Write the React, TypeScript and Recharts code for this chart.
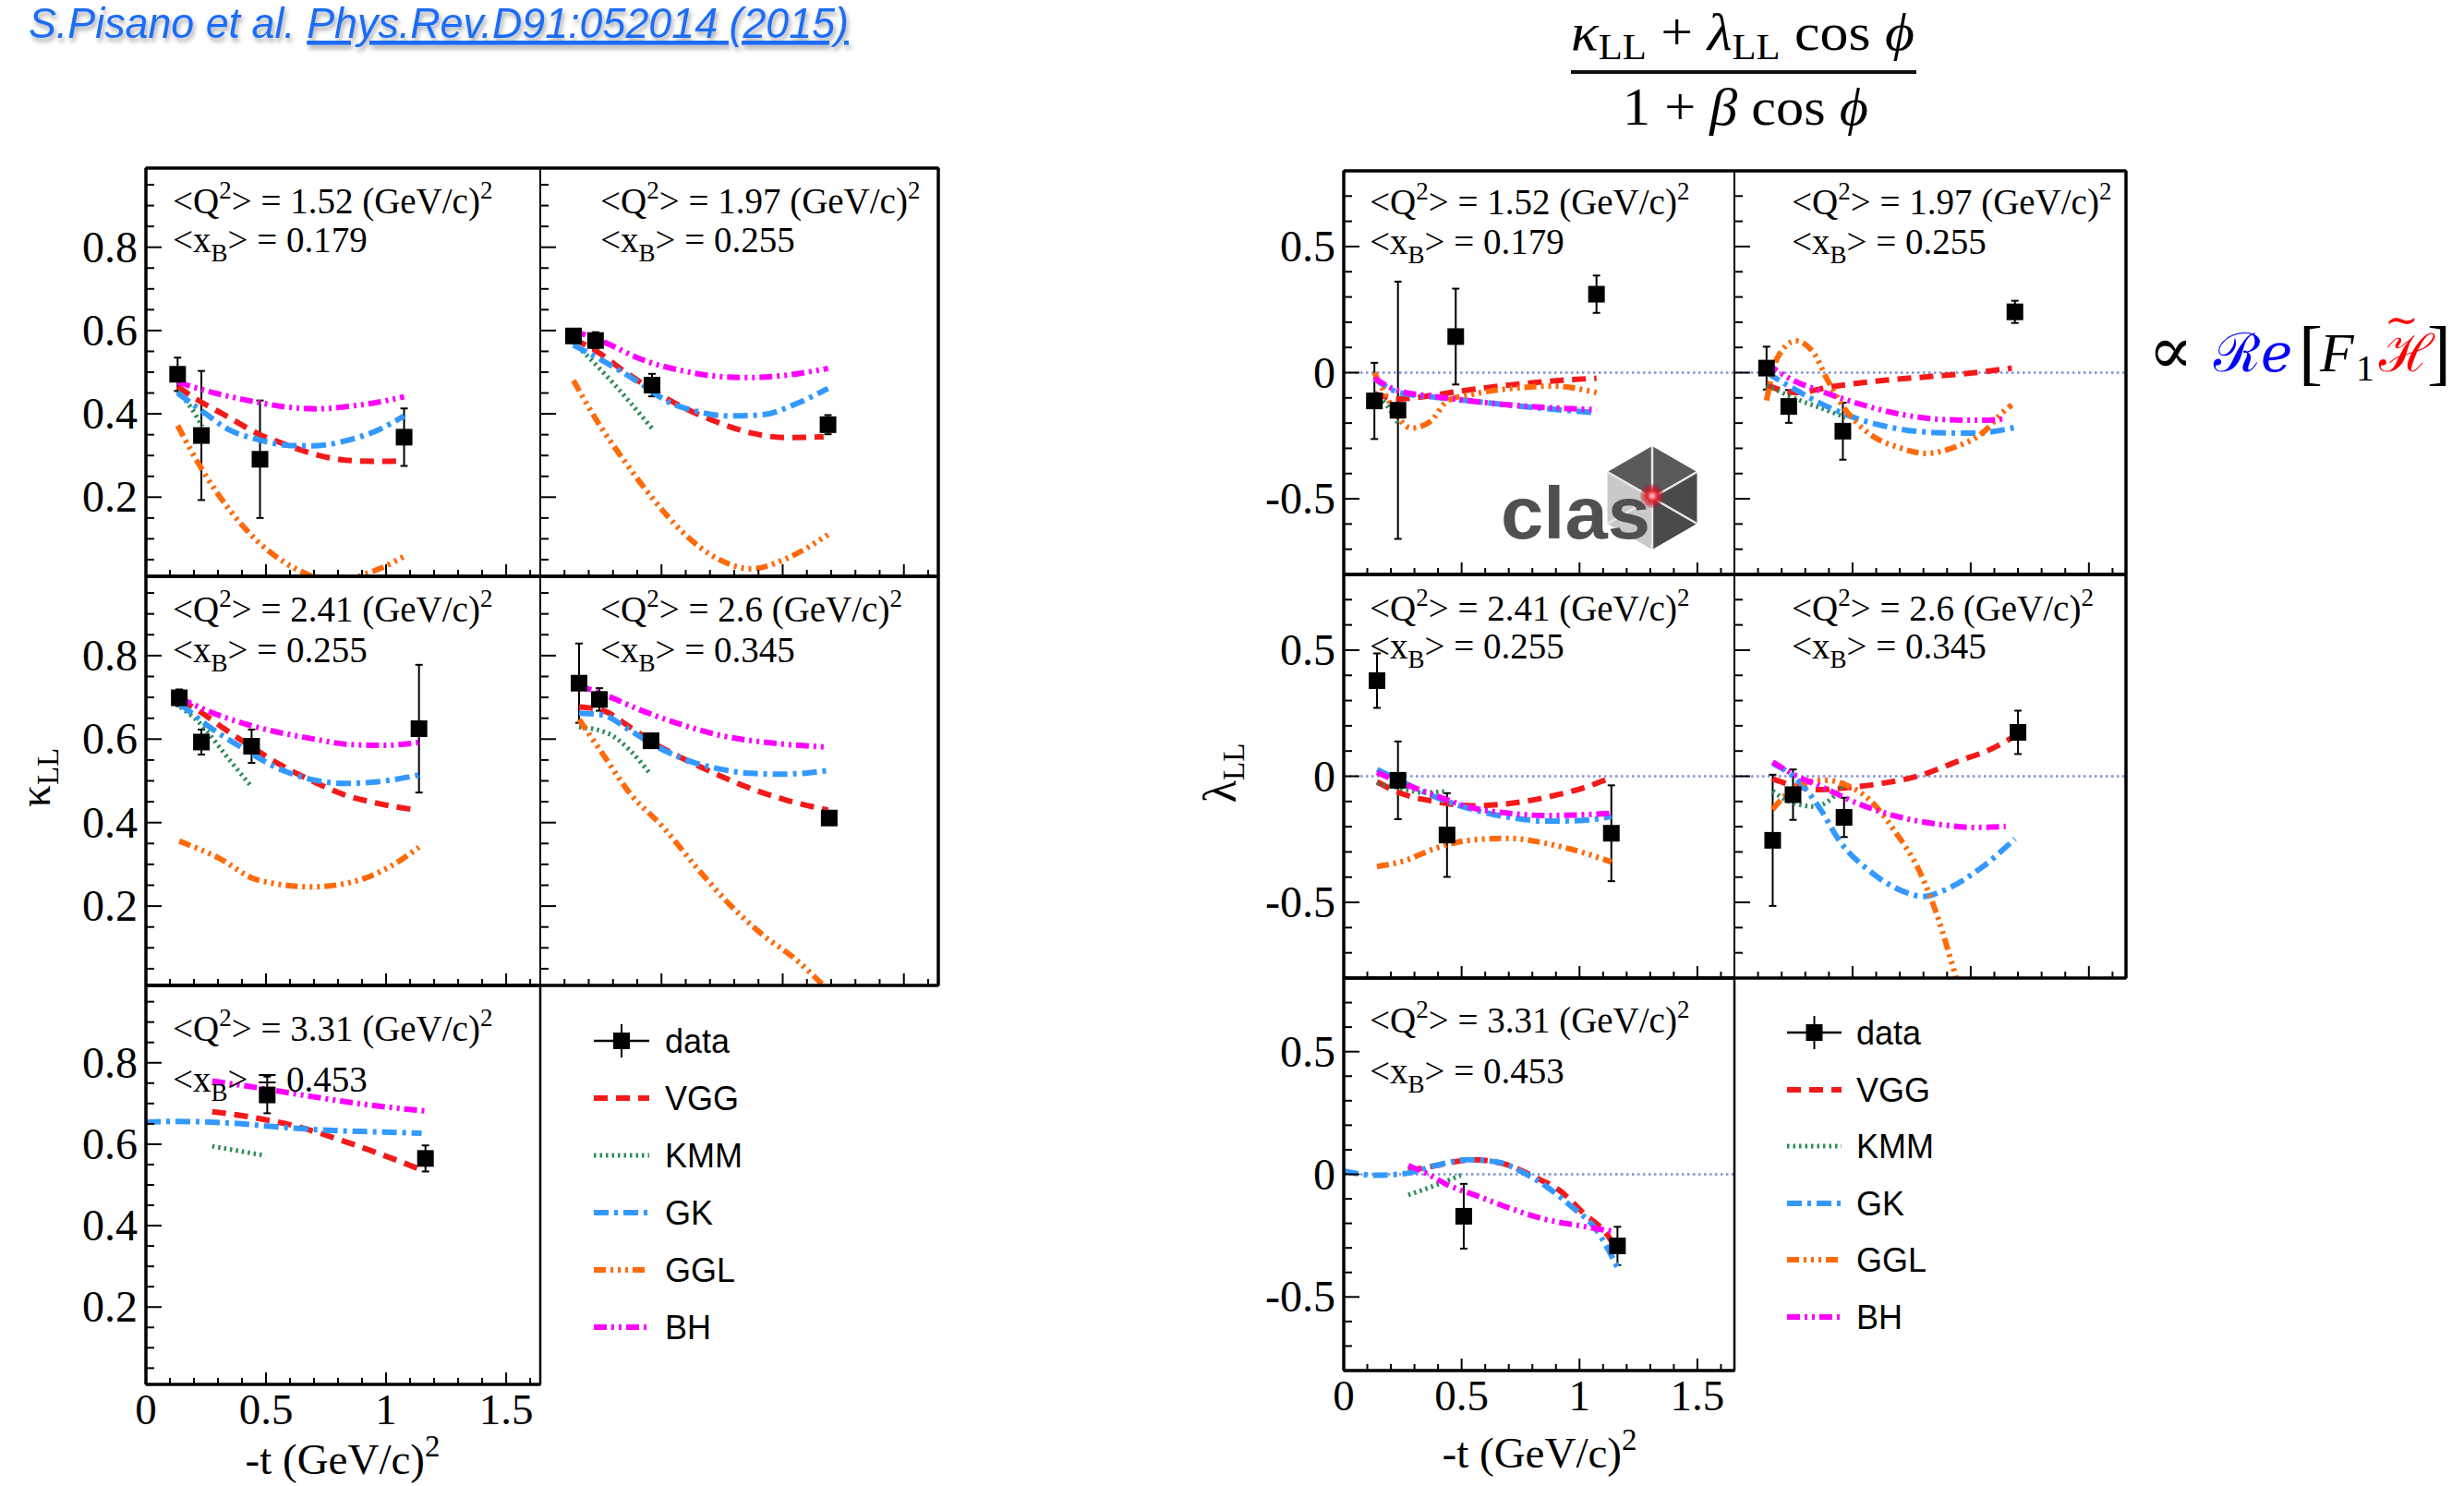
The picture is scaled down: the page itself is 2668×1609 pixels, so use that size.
import React from 'react';
import { ComposedChart, Line, Scatter, ErrorBar, XAxis, YAxis, ReferenceLine } from 'recharts';

// ================= ticks / labels =================
const KAPPA_Y_TICKS = [0.05, 0.1, 0.15, 0.2, 0.25, 0.3, 0.35, 0.4, 0.45, 0.5, 0.55, 0.6, 0.65, 0.7, 0.75, 0.8, 0.85, 0.9, 0.95];
const KAPPA_Y_LABELS = [0.2, 0.4, 0.6, 0.8];
const LAMBDA_Y_TICKS = [-0.7, -0.6, -0.5, -0.4, -0.3, -0.2, -0.1, 0, 0.1, 0.2, 0.3, 0.4, 0.5, 0.6, 0.7];
const LAMBDA_Y_LABELS = [-0.5, 0, 0.5];
const T_TICKS = [0, 0.1, 0.2, 0.3, 0.4, 0.5, 0.6, 0.7, 0.8, 0.9, 1, 1.1, 1.2, 1.3, 1.4, 1.5, 1.6];
const T_LABELS = [0, 0.5, 1, 1.5];
const Q2_VALUES = ['1.52', '1.97', '2.41', '2.6', '3.31'];
const XB_VALUES = ['0.179', '0.255', '0.255', '0.345', '0.453'];
const MODELS = ['VGG', 'KMM', 'GK', 'GGL', 'BH'];

// ================= kappa_LL data  [t, value, error] =================
const K1_DATA = [[0.132, 0.495, 0.04], [0.231, 0.348, 0.155], [0.475, 0.291, 0.141], [1.075, 0.344, 0.069]];
const K1_VGG = [[0.132, 0.465], [0.231, 0.428], [0.326, 0.398], [0.475, 0.35], [0.555, 0.332], [0.646, 0.313], [0.76, 0.295], [0.874, 0.287], [0.989, 0.286], [1.075, 0.287]];
const K1_KMM = [[0.132, 0.454], [0.19, 0.413], [0.235, 0.369]];
const K1_GK = [[0.132, 0.45], [0.235, 0.406], [0.349, 0.361], [0.463, 0.339], [0.6, 0.324], [0.692, 0.323], [0.829, 0.335], [0.966, 0.361], [1.075, 0.395]];
const K1_GGL = [[0.132, 0.372], [0.235, 0.265], [0.349, 0.169], [0.463, 0.095], [0.578, 0.043], [0.692, 0.01], [0.79, -0.012], [0.897, 0.012], [0.989, 0.032], [1.075, 0.058]];
const K1_BH = [[0.132, 0.476], [0.235, 0.458], [0.463, 0.428], [0.578, 0.417], [0.715, 0.412], [0.829, 0.417], [0.966, 0.428], [1.075, 0.441]];

const K2_DATA = [[0.137, 0.587, 0.015], [0.228, 0.576, 0.02], [0.461, 0.469, 0.027], [1.187, 0.374, 0.023]];
const K2_VGG = [[0.137, 0.58], [0.233, 0.55], [0.347, 0.502], [0.461, 0.458], [0.598, 0.413], [0.712, 0.384], [0.872, 0.354], [1.009, 0.343], [1.169, 0.345]];
const K2_KMM = [[0.137, 0.572], [0.256, 0.502], [0.37, 0.428], [0.461, 0.365]];
const K2_GK = [[0.137, 0.565], [0.256, 0.528], [0.416, 0.472], [0.53, 0.428], [0.644, 0.406], [0.781, 0.395], [0.918, 0.398], [1.055, 0.424], [1.187, 0.461]];
const K2_GGL = [[0.137, 0.48], [0.233, 0.384], [0.347, 0.287], [0.461, 0.199], [0.598, 0.11], [0.735, 0.051], [0.872, 0.028], [1.009, 0.051], [1.187, 0.11]];
const K2_BH = [[0.137, 0.6], [0.279, 0.568], [0.416, 0.531], [0.598, 0.502], [0.712, 0.491], [0.849, 0.487], [0.986, 0.491], [1.187, 0.509]];

const K3_DATA = [[0.139, 0.699, 0.02], [0.231, 0.593, 0.03], [0.44, 0.583, 0.04], [1.137, 0.625, 0.153]];
const K3_VGG = [[0.144, 0.695], [0.235, 0.662], [0.326, 0.625], [0.441, 0.581], [0.555, 0.54], [0.692, 0.5], [0.829, 0.466], [0.966, 0.446], [1.126, 0.43]];
const K3_KMM = [[0.144, 0.677], [0.235, 0.632], [0.326, 0.566], [0.441, 0.485]];
const K3_GK = [[0.144, 0.684], [0.258, 0.632], [0.395, 0.581], [0.555, 0.529], [0.692, 0.503], [0.829, 0.494], [0.966, 0.498], [1.137, 0.514]];
const K3_GGL = [[0.139, 0.356], [0.304, 0.315], [0.463, 0.263], [0.692, 0.246], [0.874, 0.26], [1.011, 0.293], [1.137, 0.341]];
const K3_BH = [[0.139, 0.699], [0.235, 0.673], [0.441, 0.632], [0.692, 0.601], [0.852, 0.587], [0.989, 0.585], [1.137, 0.592]];

const K4_DATA = [[0.16, 0.734, 0.095], [0.244, 0.695, 0.027], [0.457, 0.596, 0.015], [1.192, 0.411, 0.012]];
const K4_VGG = [[0.16, 0.677], [0.256, 0.669], [0.37, 0.629], [0.484, 0.585], [0.598, 0.551], [0.735, 0.514], [0.872, 0.481], [1.009, 0.455], [1.187, 0.43]];
const K4_KMM = [[0.16, 0.629], [0.279, 0.614], [0.37, 0.573], [0.457, 0.514]];
const K4_GK = [[0.16, 0.662], [0.256, 0.658], [0.37, 0.621], [0.484, 0.581], [0.598, 0.551], [0.735, 0.529], [0.872, 0.518], [1.009, 0.516], [1.187, 0.525]];
const K4_GGL = [[0.16, 0.647], [0.256, 0.566], [0.37, 0.47], [0.507, 0.389], [0.644, 0.293], [0.781, 0.204], [0.918, 0.131], [1.055, 0.072], [1.158, 0.016], [1.26, -0.04]];
const K4_BH = [[0.16, 0.728], [0.279, 0.703], [0.416, 0.669], [0.598, 0.632], [0.758, 0.607], [0.918, 0.593], [1.187, 0.581]];

const K5_DATA = [[0.505, 0.721, 0.045], [1.164, 0.565, 0.032]];
const K5_VGG = [[0.276, 0.68], [0.463, 0.664], [0.646, 0.641], [0.806, 0.611], [0.966, 0.578], [1.16, 0.534]];
const K5_KMM = [[0.276, 0.595], [0.498, 0.572]];
const K5_GK = [[0, 0.654], [0.121, 0.656], [0.349, 0.652], [0.578, 0.641], [0.806, 0.633], [0.989, 0.63], [1.148, 0.627]];
const K5_BH = [[0.276, 0.755], [0.463, 0.739], [0.692, 0.717], [0.92, 0.697], [1.16, 0.682]];

// ================= lambda_LL data  [t, value, error] =================
const L1_DATA = [[0.13, -0.112, 0.151], [0.23, -0.149, 0.51], [0.475, 0.143, 0.19], [1.072, 0.311, 0.074]];
const L1_VGG = [[0.13, -0.083], [0.235, -0.104], [0.339, -0.095], [0.496, -0.073], [0.704, -0.049], [0.913, -0.031], [1.072, -0.022]];
const L1_KMM = [[0.13, -0.08], [0.183, -0.13], [0.23, -0.2]];
const L1_GK = [[0.13, -0.024], [0.235, -0.079], [0.391, -0.098], [0.574, -0.116], [0.757, -0.134], [1.072, -0.159]];
const L1_GGL = [[0.13, 0], [0.183, -0.098], [0.235, -0.183], [0.287, -0.22], [0.365, -0.195], [0.443, -0.11], [0.548, -0.085], [0.757, -0.059], [0.887, -0.053], [1.072, -0.079]];
const L1_BH = [[0.13, -0.022], [0.235, -0.073], [0.391, -0.095], [0.574, -0.116], [0.757, -0.132], [1.072, -0.147]];

const L2_DATA = [[0.136, 0.018, 0.085], [0.23, -0.134, 0.065], [0.459, -0.232, 0.113], [1.187, 0.241, 0.044]];
const L2_VGG = [[0.136, -0.049], [0.261, -0.079], [0.417, -0.055], [0.626, -0.031], [0.835, -0.015], [1.017, 0], [1.174, 0.018]];
const L2_KMM = [[0.136, -0.049], [0.261, -0.104], [0.365, -0.14], [0.47, -0.177]];
const L2_GK = [[0.136, 0], [0.235, -0.055], [0.365, -0.122], [0.522, -0.183], [0.678, -0.22], [0.861, -0.238], [1.017, -0.24], [1.187, -0.217]];
const L2_GGL = [[0.136, -0.11], [0.183, 0.061], [0.26, 0.126], [0.339, 0.073], [0.391, -0.024], [0.47, -0.147], [0.574, -0.244], [0.704, -0.299], [0.809, -0.32], [0.939, -0.293], [1.043, -0.244], [1.148, -0.147], [1.174, -0.128]];
const L2_BH = [[0.136, 0.037], [0.235, -0.024], [0.365, -0.073], [0.522, -0.122], [0.704, -0.165], [0.887, -0.186], [1.043, -0.189], [1.148, -0.183]];

const L3_DATA = [[0.141, 0.379, 0.108], [0.23, -0.016, 0.154], [0.438, -0.233, 0.166], [1.135, -0.226, 0.19]];
const L3_VGG = [[0.141, -0.022], [0.235, -0.065], [0.391, -0.101], [0.548, -0.117], [0.704, -0.108], [0.861, -0.083], [1.017, -0.046], [1.122, -0.01]];
const L3_KMM = [[0.141, -0.028], [0.235, -0.046], [0.339, -0.065], [0.438, -0.059]];
const L3_GK = [[0.141, 0.027], [0.235, -0.016], [0.391, -0.083], [0.548, -0.132], [0.704, -0.163], [0.861, -0.178], [1.017, -0.175], [1.135, -0.159]];
const L3_GGL = [[0.141, -0.358], [0.261, -0.334], [0.391, -0.285], [0.548, -0.252], [0.704, -0.246], [0.861, -0.267], [1.017, -0.303], [1.135, -0.34]];
const L3_BH = [[0.141, 0.015], [0.235, -0.022], [0.391, -0.077], [0.548, -0.126], [0.704, -0.147], [0.861, -0.156], [1.135, -0.147]];

const L4_DATA = [[0.162, -0.254, 0.26], [0.248, -0.073, 0.1], [0.464, -0.163, 0.078], [1.2, 0.174, 0.086]];
const L4_VGG = [[0.162, -0.01], [0.261, -0.04], [0.365, -0.053], [0.47, -0.046], [0.626, -0.028], [0.783, 0.002], [0.939, 0.057], [1.096, 0.112], [1.2, 0.167]];
const L4_KMM = [[0.162, -0.059], [0.235, -0.101], [0.339, -0.12], [0.417, -0.083], [0.47, -0.022]];
const L4_GK = [[0.162, 0.051], [0.261, -0.01], [0.365, -0.132], [0.443, -0.254], [0.574, -0.377], [0.73, -0.462], [0.796, -0.477], [0.887, -0.452], [1.043, -0.364], [1.187, -0.248]];
const L4_GGL = [[0.162, -0.132], [0.235, -0.059], [0.313, -0.022], [0.391, -0.016], [0.47, -0.034], [0.574, -0.095], [0.678, -0.217], [0.783, -0.376], [0.861, -0.56], [0.939, -0.8], [1.0, -0.98]];
const L4_BH = [[0.162, 0.057], [0.261, 0.002], [0.365, -0.04], [0.522, -0.108], [0.704, -0.163], [0.887, -0.193], [1.017, -0.203], [1.148, -0.199]];

const L5_DATA = [[0.509, -0.171, 0.132], [1.161, -0.292, 0.078]];
const L5_VGG = [[0.274, 0.013], [0.391, 0.036], [0.548, 0.059], [0.678, 0.043], [0.809, -0.011], [0.913, -0.064], [1.017, -0.158], [1.122, -0.252], [1.148, -0.292]];
const L5_KMM = [[0.274, -0.084], [0.391, -0.044], [0.496, -0.004]];
const L5_GK = [[0, 0.013], [0.13, -0.004], [0.261, 0.003], [0.391, 0.036], [0.522, 0.059], [0.652, 0.05], [0.757, 0.009], [0.861, -0.051], [0.965, -0.131], [1.07, -0.225], [1.161, -0.379]];
const L5_BH = [[0.274, 0.036], [0.352, 0.003], [0.443, -0.044], [0.574, -0.091], [0.704, -0.138], [0.861, -0.185], [1.017, -0.212], [1.135, -0.232]];

// ================= panel tables =================
type Curves = Record<string, number[][] | undefined>;
const KAPPA_PANELS: { data: number[][]; curves: Curves }[] = [
  { data: K1_DATA, curves: { VGG: K1_VGG, KMM: K1_KMM, GK: K1_GK, GGL: K1_GGL, BH: K1_BH } },
  { data: K2_DATA, curves: { VGG: K2_VGG, KMM: K2_KMM, GK: K2_GK, GGL: K2_GGL, BH: K2_BH } },
  { data: K3_DATA, curves: { VGG: K3_VGG, KMM: K3_KMM, GK: K3_GK, GGL: K3_GGL, BH: K3_BH } },
  { data: K4_DATA, curves: { VGG: K4_VGG, KMM: K4_KMM, GK: K4_GK, GGL: K4_GGL, BH: K4_BH } },
  { data: K5_DATA, curves: { VGG: K5_VGG, KMM: K5_KMM, GK: K5_GK, BH: K5_BH } },
];
const LAMBDA_PANELS: { data: number[][]; curves: Curves }[] = [
  { data: L1_DATA, curves: { VGG: L1_VGG, KMM: L1_KMM, GK: L1_GK, GGL: L1_GGL, BH: L1_BH } },
  { data: L2_DATA, curves: { VGG: L2_VGG, KMM: L2_KMM, GK: L2_GK, GGL: L2_GGL, BH: L2_BH } },
  { data: L3_DATA, curves: { VGG: L3_VGG, KMM: L3_KMM, GK: L3_GK, GGL: L3_GGL, BH: L3_BH } },
  { data: L4_DATA, curves: { VGG: L4_VGG, KMM: L4_KMM, GK: L4_GK, GGL: L4_GGL, BH: L4_BH } },
  { data: L5_DATA, curves: { VGG: L5_VGG, KMM: L5_KMM, GK: L5_GK, BH: L5_BH } },
];

const MODEL_STYLE: Record<string, { color: string; dash: string; width: number }> = {
  VGG: { color: '#f41a1a', dash: '15 9', width: 6 },
  KMM: { color: '#2e8b57', dash: '2.5 4', width: 5 },
  GK: { color: '#3399ff', dash: '16 6 4 6', width: 6 },
  GGL: { color: '#ff6a0a', dash: '13 5 3 5 3 5 3 5', width: 6 },
  BH: { color: '#ff00ff', dash: '14 5 3 5 3 5', width: 6 },
};

// ================= layout =================
const LEFT_COLS = [{ x: 158, w: 427 }, { x: 585, w: 431 }];
const LEFT_ROWS = [{ y: 182, h: 442 }, { y: 624, h: 443 }, { y: 1067, h: 432 }];
const RIGHT_COLS = [{ x: 1455, w: 423 }, { x: 1878, w: 424 }];
const RIGHT_ROWS = [{ y: 185, h: 437 }, { y: 622, h: 437 }, { y: 1059, h: 425 }];

const SERIF = 'Liberation Serif, Times New Roman, serif';
const SANS = 'Liberation Sans, Arial, sans-serif';
const AX = 1; // axis band size (Recharts will not draw a zero-size axis)

const pts = (a: number[][]) => a.map(([t, v, e]) => (e === undefined ? { t, v } : { t, v, e }));
const near = (list: number[], v: number) => list.some((m) => Math.abs(m - v) < 1e-6);
const fmt = (v: number) => String(Math.round(v * 10) / 10);

const Square = (p: any) => <rect x={p.cx - 9} y={p.cy - 9} width={18} height={18} fill="#000" />;

const YTick = (p: any) => {
  const v = p.payload.value;
  const major = near(p.labels, v);
  return (
    <g>
      <line x1={p.x} x2={p.x + (major ? 17 : 9)} y1={p.y} y2={p.y} stroke="#000" strokeWidth={2} />
      {major && p.showLabel ? (
        <text x={p.x - 9} y={p.y + 16} textAnchor="end" fontFamily={SERIF} fontSize={48} fill="#000">{fmt(v)}</text>
      ) : null}
    </g>
  );
};

const XTick = (p: any) => {
  const v = p.payload.value;
  const major = near(T_LABELS, v);
  return (
    <g>
      <line x1={p.x} x2={p.x} y1={p.y} y2={p.y - (major ? 13 : 7)} stroke="#000" strokeWidth={2} />
      {major && p.showLabel ? (
        <text x={p.x} y={p.y + 43} textAnchor="middle" fontFamily={SERIF} fontSize={47} fill="#000">{fmt(v)}</text>
      ) : null}
    </g>
  );
};

function Panel(props: {
  x: number; y: number; w: number; h: number; xMax: number; yDom: [number, number];
  yTicks: number[]; yLabels: number[]; showY: boolean; showX: boolean; data: number[][]; curves: Curves; zero: boolean;
}) {
  const { x, y, w, h, xMax, yDom, yTicks, yLabels, showY, showX, data, curves, zero } = props;
  return (
    <div style={{ position: 'absolute', left: x - AX, top: y, width: w + AX, height: h + AX }}>
      <ComposedChart width={w + AX} height={h + AX} margin={{ top: 0, right: 0, bottom: 0, left: 0 }}>
        <XAxis type="number" dataKey="t" domain={[0, xMax]} ticks={T_TICKS} interval={0} height={AX} tickSize={0} tickMargin={0}
          axisLine={false} tickLine={false} allowDataOverflow tick={(tp: any) => <XTick {...tp} showLabel={showX} />} />
        <YAxis type="number" domain={yDom} ticks={yTicks} interval={0} width={AX} tickSize={0} tickMargin={0}
          axisLine={false} tickLine={false} allowDataOverflow tick={(tp: any) => <YTick {...tp} labels={yLabels} showLabel={showY} />} />
        {zero ? <ReferenceLine y={0} stroke="#7f8fd6" strokeWidth={2.5} strokeDasharray="2.5 3.5" /> : null}
        <Scatter data={pts(data)} dataKey="v" isAnimationActive={false} shape={Square}>
          <ErrorBar dataKey="e" direction="y" width={4} stroke="#000" strokeWidth={2} />
        </Scatter>
        {MODELS.map((m) => {
          const c = curves[m];
          if (!c) return null;
          const s = MODEL_STYLE[m];
          return (
            <Line key={m} data={pts(c)} dataKey="v" type="monotone" stroke={s.color} strokeWidth={s.width}
              strokeDasharray={s.dash} dot={false} activeDot={false} isAnimationActive={false} />
          );
        })}
      </ComposedChart>
    </div>
  );
}

function KinLabel({ x, y1, y2, q2, xb }: { x: number; y1: number; y2: number; q2: string; xb: string }) {
  return (
    <g fontFamily={SERIF} fontSize={39} fill="#000">
      <text x={x} y={y1}>
        {'<Q'}<tspan fontSize={27} dy={-16}>2</tspan><tspan dy={16}>{`> = ${q2} (GeV/c)`}</tspan><tspan fontSize={27} dy={-16}>2</tspan>
      </text>
      <text x={x} y={y2}>
        {'<x'}<tspan fontSize={27} dy={10}>B</tspan><tspan dy={-10}>{`> = ${xb}`}</tspan>
      </text>
    </g>
  );
}

function LegendBlock({ x0, x1, tx, ys }: { x0: number; x1: number; tx: number; ys: number[] }) {
  const cx = (x0 + x1) / 2;
  return (
    <g fontFamily={SANS} fontSize={36} fill="#000">
      <line x1={x0} x2={x1} y1={ys[0]} y2={ys[0]} stroke="#000" strokeWidth={2.5} />
      <line x1={cx} x2={cx} y1={ys[0] - 18} y2={ys[0] + 18} stroke="#000" strokeWidth={2} />
      <rect x={cx - 9} y={ys[0] - 9} width={18} height={18} fill="#000" />
      <text x={tx} y={ys[0] + 13}>data</text>
      {MODELS.map((m, i) => {
        const s = MODEL_STYLE[m];
        return (
          <g key={m}>
            <line x1={x0} x2={x1} y1={ys[i + 1]} y2={ys[i + 1]} stroke={s.color} strokeWidth={s.width} strokeDasharray={s.dash} />
            <text x={tx} y={ys[i + 1] + 13}>{m}</text>
          </g>
        );
      })}
    </g>
  );
}

function Frames({ cols, rows }: { cols: { x: number; w: number }[]; rows: { y: number; h: number }[] }) {
  const out: React.ReactNode[] = [];
  rows.forEach((r, ri) => {
    const nc = ri === 2 ? 1 : 2;
    for (let ci = 0; ci < nc; ci++) {
      const c = cols[ci];
      out.push(<rect key={`r${ri}${ci}`} x={c.x} y={r.y} width={c.w} height={r.h} fill="none" stroke="#000" strokeWidth={2} />);
    }
    const xr = nc === 2 ? cols[1].x + cols[1].w : cols[0].x + cols[0].w;
    out.push(<line key={`t${ri}`} x1={cols[0].x} x2={xr} y1={r.y} y2={r.y} stroke="#000" strokeWidth={3.5} />);
    out.push(<line key={`b${ri}`} x1={cols[0].x} x2={xr} y1={r.y + r.h} y2={r.y + r.h} stroke="#000" strokeWidth={3.5} />);
    out.push(<line key={`l${ri}`} x1={cols[0].x} x2={cols[0].x} y1={r.y} y2={r.y + r.h} stroke="#000" strokeWidth={3.5} />);
    out.push(<line key={`e${ri}`} x1={xr} x2={xr} y1={r.y} y2={r.y + r.h} stroke="#000" strokeWidth={nc === 2 ? 3.5 : 2.5} />);
  });
  return <g>{out}</g>;
}

function ClasLogo() {
  const cx = 1789, cy = 539, R = 56;
  const v = [0, 1, 2, 3, 4, 5].map((k) => {
    const a = (-90 + 60 * k) * Math.PI / 180;
    return [cx + R * Math.cos(a), cy + R * Math.sin(a)];
  });
  const poly = (arr: number[][]) => arr.map((p) => p.join(',')).join(' ');
  return (
    <g>
      <defs>
        <radialGradient id="clasdot">
          <stop offset="0%" stopColor="#ffd0d0" />
          <stop offset="45%" stopColor="#e0202a" />
          <stop offset="100%" stopColor="#b01020" stopOpacity={0.2} />
        </radialGradient>
      </defs>
      <polygon points={poly([v[0], v[1], [cx, cy], v[5]])} fill="#5a5a5a" />
      <polygon points={poly([v[1], v[2], v[3], [cx, cy]])} fill="#4a4a4a" />
      <polygon points={poly([v[5], [cx, cy], v[3], v[4]])} fill="#c9c9c9" />
      {v.map((p, i) => (
        <line key={i} x1={cx} y1={cy} x2={p[0]} y2={p[1]} stroke="#e8e8e8" strokeWidth={2.5} />
      ))}
      <text x={1625} y={583} fontFamily={SANS} fontWeight="bold" fontSize={80} fill="#505050" textLength={162} lengthAdjust="spacingAndGlyphs">clas</text>
      <circle cx={cx} cy={cy - 2} r={13} fill="url(#clasdot)" />
    </g>
  );
}

export default function App() {
  return (
    <div style={{ position: 'absolute', left: 0, top: 0, width: 2668, height: 1609, background: '#fff', overflow: 'hidden' }}>
      <style>{`.recharts-surface{overflow:visible}`}</style>
      {KAPPA_PANELS.map((p, i) => {
        const c = LEFT_COLS[i % 2];
        const r = LEFT_ROWS[Math.floor(i / 2)];
        return (
          <Panel key={'k' + i} x={c.x} y={r.y} w={c.w} h={r.h} xMax={1.642} yDom={[0.01, 0.99]}
            yTicks={KAPPA_Y_TICKS} yLabels={KAPPA_Y_LABELS} showY={i % 2 === 0} showX={i === 4}
            data={p.data} curves={p.curves} zero={false} />
        );
      })}
      {LAMBDA_PANELS.map((p, i) => {
        const c = RIGHT_COLS[i % 2];
        const r = RIGHT_ROWS[Math.floor(i / 2)];
        return (
          <Panel key={'l' + i} x={c.x} y={r.y} w={c.w} h={r.h} xMax={1.657} yDom={[-0.8, 0.8]}
            yTicks={LAMBDA_Y_TICKS} yLabels={LAMBDA_Y_LABELS} showY={i % 2 === 0} showX={i === 4}
            data={p.data} curves={p.curves} zero={true} />
        );
      })}
      <svg width={2668} height={1609} style={{ position: 'absolute', left: 0, top: 0, pointerEvents: 'none' }}>
        <defs>
          <filter id="shadow" x="-5%" y="-20%" width="110%" height="160%">
            <feDropShadow dx="2" dy="4" stdDeviation="2.5" floodColor="#000" floodOpacity="0.35" />
          </filter>
        </defs>
        <Frames cols={LEFT_COLS} rows={LEFT_ROWS} />
        <Frames cols={RIGHT_COLS} rows={RIGHT_ROWS} />

        {Q2_VALUES.map((q, i) => {
          const lx = i % 2 === 0 ? 187 : 650;
          const rx = i % 2 === 0 ? 1483 : 1940;
          const row = Math.floor(i / 2);
          const ly = [[231, 273], [673, 717], [1127, 1182]][row];
          const ry = [[232, 275], [672, 713], [1118, 1173]][row];
          return (
            <g key={'kin' + i}>
              <KinLabel x={lx} y1={ly[0]} y2={ly[1]} q2={q} xb={XB_VALUES[i]} />
              <KinLabel x={rx} y1={ry[0]} y2={ry[1]} q2={q} xb={XB_VALUES[i]} />
            </g>
          );
        })}

        <LegendBlock x0={643} x1={703} tx={720} ys={[1127, 1189, 1251, 1313, 1375, 1437]} />
        <LegendBlock x0={1935} x1={1994} tx={2010} ys={[1118, 1180, 1241, 1303, 1364, 1426]} />

        {/* axis titles */}
        <text x={371} y={1596} textAnchor="middle" fontFamily={SERIF} fontSize={47}>
          -t (GeV/c)<tspan fontSize={33} dy={-19}>2</tspan>
        </text>
        <text x={1667} y={1589} textAnchor="middle" fontFamily={SERIF} fontSize={47}>
          -t (GeV/c)<tspan fontSize={33} dy={-19}>2</tspan>
        </text>
        <text transform="translate(54,842) rotate(-90)" textAnchor="middle" fontFamily={SERIF} fontSize={48}>
          κ<tspan fontSize={33} dy={9}>LL</tspan>
        </text>
        <text transform="translate(1338,837) rotate(-90)" textAnchor="middle" fontFamily={SERIF} fontSize={50}>
          λ<tspan fontSize={33} dy={9}>LL</tspan>
        </text>

        {/* reference title */}
        <g filter="url(#shadow)">
          <text x={31} y={41} fontFamily={SANS} fontStyle="italic" fontSize={46} fill="#1f6cf5" textLength={888} lengthAdjust="spacingAndGlyphs">
            S.Pisano et al. <tspan style={{ textDecoration: 'underline' }}>Phys.Rev.D91:052014 (2015)</tspan>
          </text>
        </g>

        {/* formula */}
        <text x={1701} y={54} fontFamily={SERIF} fontSize={58} textLength={372} lengthAdjust="spacingAndGlyphs">
          <tspan fontStyle="italic">κ</tspan><tspan fontSize={40} dy={10}>LL</tspan><tspan dy={-10}> + </tspan>
          <tspan fontStyle="italic">λ</tspan><tspan fontSize={40} dy={10}>LL</tspan><tspan dy={-10}> cos </tspan>
          <tspan fontStyle="italic">ϕ</tspan>
        </text>
        <line x1={1701} x2={2075} y1={78} y2={78} stroke="#111" strokeWidth={4} />
        <text x={1757} y={135} fontFamily={SERIF} fontSize={58} textLength={266} lengthAdjust="spacingAndGlyphs">
          1 + <tspan fontStyle="italic">β</tspan> cos <tspan fontStyle="italic">ϕ</tspan>
        </text>

        {/* proportional-to expression */}
        <g fontFamily="DejaVu Serif, Liberation Serif, serif">
          <text x={2326} y={404} fontSize={72} fill="#000">∝</text>
          <text x={2397} y={402} fontSize={58} fill="#0000ff">ℛ<tspan fontStyle="italic">e</tspan></text>
          <text x={2489} y={408} fontSize={78} fill="#000" fontFamily={SERIF}>[</text>
          <text x={2512} y={402} fontSize={60} fill="#000" fontStyle="italic" fontFamily={SERIF}>F</text>
          <text x={2551} y={412} fontSize={40} fill="#000" fontFamily={SERIF}>1</text>
          <text x={2576} y={402} fontSize={56} fill="#ff0000">ℋ</text>
          <text x={2582} y={362} fontSize={44} fill="#ff0000">~</text>
          <text x={2628} y={408} fontSize={78} fill="#000" fontFamily={SERIF}>]</text>
        </g>

        <ClasLogo />
      </svg>
    </div>
  );
}
